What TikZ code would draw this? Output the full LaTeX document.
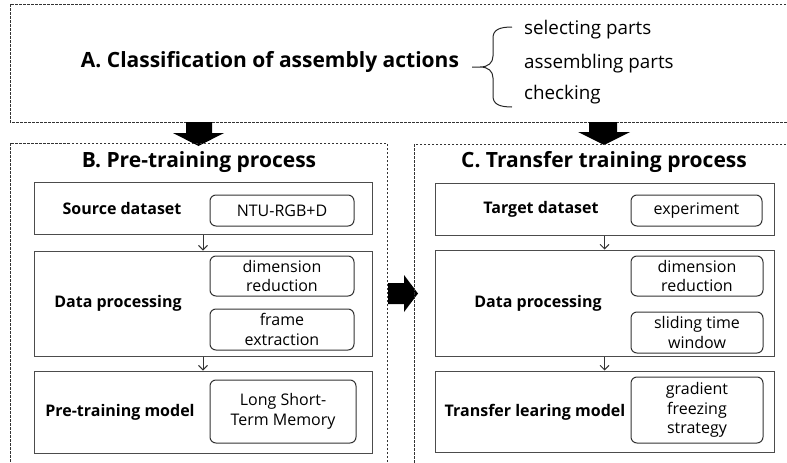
\documentclass[tikz,border=0pt]{standalone}
\usepackage{fontspec}
\setmainfont{Open Sans}
\usetikzlibrary{arrows.meta}

\tikzset{
  region/.style={draw=black!80, line width=0.7, dash pattern=on 2.5 off 1.5},
  stagebox/.style={draw=black!70, line width=1, inner sep=0, minimum width=338, rectangle},
  itembox/.style={draw=black!80, line width=1, rounded corners=6, inner sep=0,
    align=center, font=\fontsize{16}{19.5}\selectfont},
  stagelabel/.style={font=\bfseries\fontsize{16}{19}\selectfont, inner sep=0},
  heading/.style={font=\bfseries\fontsize{21}{25}\selectfont, inner sep=0},
  listitem/.style={font=\fontsize{18.8}{22}\selectfont, inner sep=0, anchor=west},
  flow/.style={draw=black!80, line width=0.9, -{Straight Barb[length=4.5, width=9, line width=0.9]}},
  bigarrow/.style={fill=black, draw=none}
}

\begin{document}
\begin{tikzpicture}[x=1pt, y=-1pt]
\useasboundingbox (0,0) rectangle (787,463);
\clip (0,0) rectangle (787,463);

% ---------- A: classification ----------
\draw[region] (10,4) rectangle (800,122);
\node[heading] (titleA) at (270,62) {A. Classification of assembly actions};
\draw[black!85, line width=1]
  (512,27) .. controls (499,27) and (493,30) .. (493,38) -- (493,56)
  .. controls (493,63) and (488,67) .. (480,67) -- (472,67)
  -- (480,67) .. controls (488,67) and (493,71) .. (493,78) -- (493,96)
  .. controls (493,104) and (499,107) .. (512,107);
\node[listitem] (selA) at (524,30) {selecting parts};
\node[listitem] (asmA) at (524,64) {assembling parts};
\node[listitem] (chkA) at (524,95) {checking};

% block arrows from A down to B and C
\fill[bigarrow] (186,122) -- (212,122) -- (212,133) -- (224,133) -- (198.5,146)
  -- (173,133) -- (186,133) -- cycle;
\fill[bigarrow] (589,122) -- (617,122) -- (617,132) -- (630,132) -- (604,145)
  -- (578,132) -- (589,132) -- cycle;

% ---------- B: pre-training ----------
\draw[region] (10,143) rectangle (387,480);
\node[heading] (titleB) at (199,162) {B. Pre-training process};

\node[stagebox, minimum height=52] (srcB) at (203,208) {};
\node[stagebox, minimum height=105] (dpB) at (203,303.5) {};
\node[stagebox, minimum height=82] (ptB) at (203,412) {};

\node[stagelabel] at (122,208) {Source dataset};
\node[stagelabel] at (118,303) {Data processing};
\node[stagelabel] at (120,412) {Pre-training model};

\node[itembox, minimum width=144, minimum height=31] (ntu) at (282,210.5) {NTU-RGB+D};
\node[itembox, minimum width=144, minimum height=40] (dimB) at (282,276) {dimension\\reduction};
\node[itembox, minimum width=144, minimum height=41] (frmB) at (282,329.5) {frame\\extraction};
\node[itembox, minimum width=146, minimum height=63] (lstm) at (283,411.5) {Long Short-\\Term Memory};

\draw[flow] (srcB.south) -- (dpB.north);
\draw[flow] (dpB.south) -- (ptB.north);

% block arrow from B to C
\fill[bigarrow] (388,283) -- (404,283) -- (404,275) -- (418,293.5) -- (404,312)
  -- (404,304) -- (388,304) -- cycle;

% ---------- C: transfer training ----------
\draw[region] (414,144) rectangle (800,480);
\node[heading] (titleC) at (604,162) {C. Transfer training process};

\node[stagebox, minimum width=339, minimum height=52] (tgtC) at (604.5,209) {};
\node[stagebox, minimum width=339, minimum height=106] (dpC) at (604.5,303) {};
\node[stagebox, minimum width=339, minimum height=81] (tlC) at (604.5,411.5) {};

\node[stagelabel] at (541,209) {Target dataset};
\node[stagelabel] at (538,303) {Data processing};
\node[stagelabel] at (535,412) {Transfer learing model};

\node[itembox, minimum width=131, minimum height=31] (expC) at (696.5,210.5) {experiment};
\node[itembox, minimum width=132, minimum height=40] (dimC) at (697,276) {dimension\\reduction};
\node[itembox, minimum width=132, minimum height=41] (sldC) at (697,332.5) {sliding time\\window};
\node[itembox, minimum width=132, minimum height=66] (grdC) at (697,410) {gradient\\freezing\\strategy};

\draw[flow] (tgtC.south) -- (dpC.north);
\draw[flow] (dpC.south) -- (tlC.north);
\end{tikzpicture}
\end{document}
